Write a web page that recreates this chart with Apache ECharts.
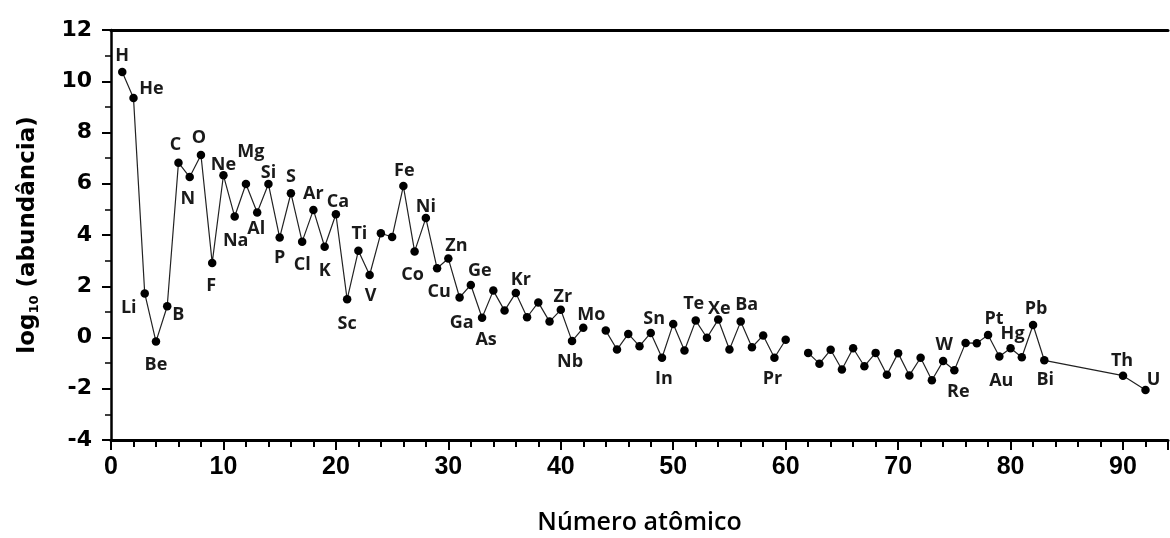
<!DOCTYPE html>
<html>
<head>
<meta charset="utf-8">
<script src="https://cdn.jsdelivr.net/npm/echarts@6/dist/echarts.min.js"></script>
<style>
html,body{margin:0;padding:0;background:#fff;}
#chart{width:1170px;height:538px;}
</style>
</head>
<body>
<div id="chart"></div>
<script>
// ---- data ----
var atomicNumbers = [1,2,3,4,5,6,7,8,9,10,11,12,13,14,15,16,17,18,19,20,21,22,23,24,25,26,27,28,29,30,31,32,33,34,35,36,37,38,39,40,41,42,43,44,45,46,47,48,49,50,51,52,53,54,55,56,57,58,59,60,61,62,63,64,65,66,67,68,69,70,71,72,73,74,75,76,77,78,79,80,81,82,83,90,92];
var elementSymbols = ['H','He','Li','Be','B','C','N','O','F','Ne','Na','Mg','Al','Si','P','S','Cl','Ar','K','Ca','Sc','Ti','V','Cr','Mn','Fe','Co','Ni','Cu','Zn','Ga','Ge','As','Se','Br','Kr','Rb','Sr','Y','Zr','Nb','Mo','Tc','Ru','Rh','Pd','Ag','Cd','In','Sn','Sb','Te','I','Xe','Cs','Ba','La','Ce','Pr','Nd','Pm','Sm','Eu','Gd','Tb','Dy','Ho','Er','Tm','Yb','Lu','Hf','Ta','W','Re','Os','Ir','Pt','Au','Hg','Tl','Pb','Bi','Th','U'];
var logAbundance = [10.36,9.35,1.72,-0.16,1.22,6.82,6.26,7.12,2.91,6.33,4.72,5.99,4.88,5.99,3.90,5.63,3.74,4.98,3.54,4.81,1.49,3.39,2.44,4.07,3.92,5.91,3.36,4.66,2.70,3.08,1.56,2.05,0.77,1.83,1.05,1.74,0.79,1.37,0.62,1.08,-0.14,0.38,null,0.27,-0.47,0.14,-0.34,0.18,-0.79,0.53,-0.51,0.66,-0.01,0.70,-0.47,0.62,-0.38,0.08,-0.79,-0.09,null,-0.60,-1.02,-0.48,-1.25,-0.42,-1.12,-0.60,-1.45,-0.61,-1.48,-0.79,-1.67,-0.92,-1.28,-0.21,-0.22,0.10,-0.74,-0.42,-0.77,0.49,-0.89,-1.49,-2.05];
var labeledElements = ['H','He','Li','Be','B','C','N','O','F','Ne','Na','Mg','Al','Si','P','S','Cl','Ar','K','Ca','Sc','Ti','V','Fe','Co','Ni','Cu','Zn','Ga','Ge','As','Kr','Zr','Nb','Mo','Sn','In','Te','Xe','Ba','Pr','W','Re','Pt','Au','Hg','Pb','Bi','Th','U'];
var xTickLabels = ['0','10','20','30','40','50','60','70','80','90'];
var yTickLabels = ['-4','-2','0','2','4','6','8','10','12'];

// ---- label placement (styling only) ----
var labelOffsets = {
  H:[0,-16], He:[18,-9], Li:[-16,14], Be:[0,23], B:[11,9], C:[-3,-18], N:[-2,22], O:[-2,-17],
  F:[-1,23], Ne:[0,-10], Na:[1,24], Mg:[5,-32], Al:[-1,16], Si:[0,-11], P:[0,20], S:[0,-16],
  Cl:[0,23], Ar:[0,-16], K:[0,24], Ca:[2,-12], Sc:[0,25], Ti:[1,-17], V:[1,21], Fe:[1,-15],
  Co:[-2,23], Ni:[0,-11], Cu:[2,24], Zn:[8,-13], Ga:[2,25], Ge:[9,-14], As:[4,22], Kr:[5,-13],
  Zr:[2,-13], Nb:[-2,21], Mo:[8,-13], Sn:[-19,-5], In:[2,21], Te:[-2,-17], Xe:[1,-11], Ba:[6,-17],
  Pr:[-2,21], W:[1,-16], Re:[4,22], Pt:[6,-16], Au:[2,24], Hg:[2,-14], Pb:[3,-16], Bi:[1,20],
  Th:[-1,-15], U:[8,-10]
};

var seriesData = atomicNumbers.map(function(z, i){
  var v = logAbundance[i];
  var sym = elementSymbols[i];
  var item = { value: [z, v === null ? '-' : v], name: sym };
  if (labeledElements.indexOf(sym) >= 0 && v !== null) {
    item.label = { show: true, formatter: sym, position: 'inside', offset: labelOffsets[sym] || [0,-14] };
  }
  return item;
});

var chart = echarts.init(document.getElementById('chart'), null, {renderer:'canvas'});
var yFont = 'DejaVu Sans';
var XMAX = 94;
var option = {
  backgroundColor: '#fff',
  animation: false,
  grid: { left: 111, right: 2, top: 30, bottom: 98, containLabel: false, outerBoundsMode: 'none' },
  xAxis: [{
    // main axis: minor tick spacing (2), labels only at multiples of 10
    type: 'value', min: 0, max: XMAX, interval: 2, position: 'bottom',
    axisLine: { show: true, onZero: false, lineStyle: { color: '#000', width: 3 } },
    axisTick: { show: true, length: 7, lineStyle: { color: '#000', width: 2 } },
    splitLine: { show: false },
    axisLabel: {
      showMaxLabel: false, margin: 15, color: '#000', fontFamily: "'Liberation Sans Narrow','Arial Narrow','Liberation Sans'",
      fontWeight: 'bold', fontSize: 25,
      formatter: function(v){ var r = Math.round(v); var s = String(r); return (Math.abs(v - r) < 1e-6 && r % 10 === 0 && xTickLabels.indexOf(s) >= 0) ? s : ''; }
    },
    name: 'Número atômico', nameLocation: 'middle', nameGap: 70,
    nameTextStyle: { color: '#000', fontFamily: "'Open Sans'", fontWeight: 600, fontSize: 25 }
  }, {
    // major ticks every 10
    type: 'value', min: 0, max: XMAX, interval: 10, position: 'bottom',
    axisLine: { show: false, onZero: false },
    axisTick: { show: true, length: 10, lineStyle: { color: '#000', width: 2 } },
    axisLabel: { show: false }, splitLine: { show: false }
  }, {
    type: 'value', min: 0, max: XMAX, position: 'top',
    axisLine: { show: true, onZero: false, lineStyle: { color: '#000', width: 3 } },
    axisTick: { show: false }, axisLabel: { show: false }, splitLine: { show: false }
  }],
  yAxis: [{
    type: 'value', min: -4, max: 12, interval: 2, position: 'left',
    axisLine: { show: true, onZero: false, lineStyle: { color: '#000', width: 2.5 } },
    axisTick: { show: true, length: 9, lineStyle: { color: '#000', width: 2 } },
    splitLine: { show: false },
    axisLabel: {
      margin: 19, color: '#000', fontFamily: yFont, fontWeight: 'bold', fontSize: 22,
      formatter: function(v){ var s = String(v); return yTickLabels.indexOf(s) >= 0 ? s : ''; }
    },
    name: '{a|log}{b|10}{a| (abundância)}', nameLocation: 'middle', nameGap: 70, nameRotate: 90,
    nameTextStyle: {
      rich: {
        a: { color: '#000', fontFamily: yFont, fontWeight: 'bold', fontSize: 23 },
        b: { color: '#000', fontFamily: yFont, fontWeight: 'bold', fontSize: 13, padding: [12,0,0,0] }
      }
    }
  }, {
    type: 'value', min: -4, max: 12, interval: 1, position: 'left',
    axisLine: { show: false, onZero: false },
    axisTick: { show: true, length: 6, lineStyle: { color: '#000', width: 1.5 } },
    axisLabel: { show: false }, splitLine: { show: false }
  }],
  series: [{
    type: 'line',
    xAxisIndex: 0, yAxisIndex: 0,
    data: seriesData,
    connectNulls: false,
    symbol: 'circle', symbolSize: 8.5,
    itemStyle: { color: '#000' },
    lineStyle: { color: '#222', width: 1.2 },
    label: { show: false, color: '#1a1a1a', fontFamily: "'Open Sans'", fontWeight: 'bold', fontSize: 18 },
    emphasis: { disabled: true }
  }]
};
chart.setOption(option);
</script>
</body>
</html>
